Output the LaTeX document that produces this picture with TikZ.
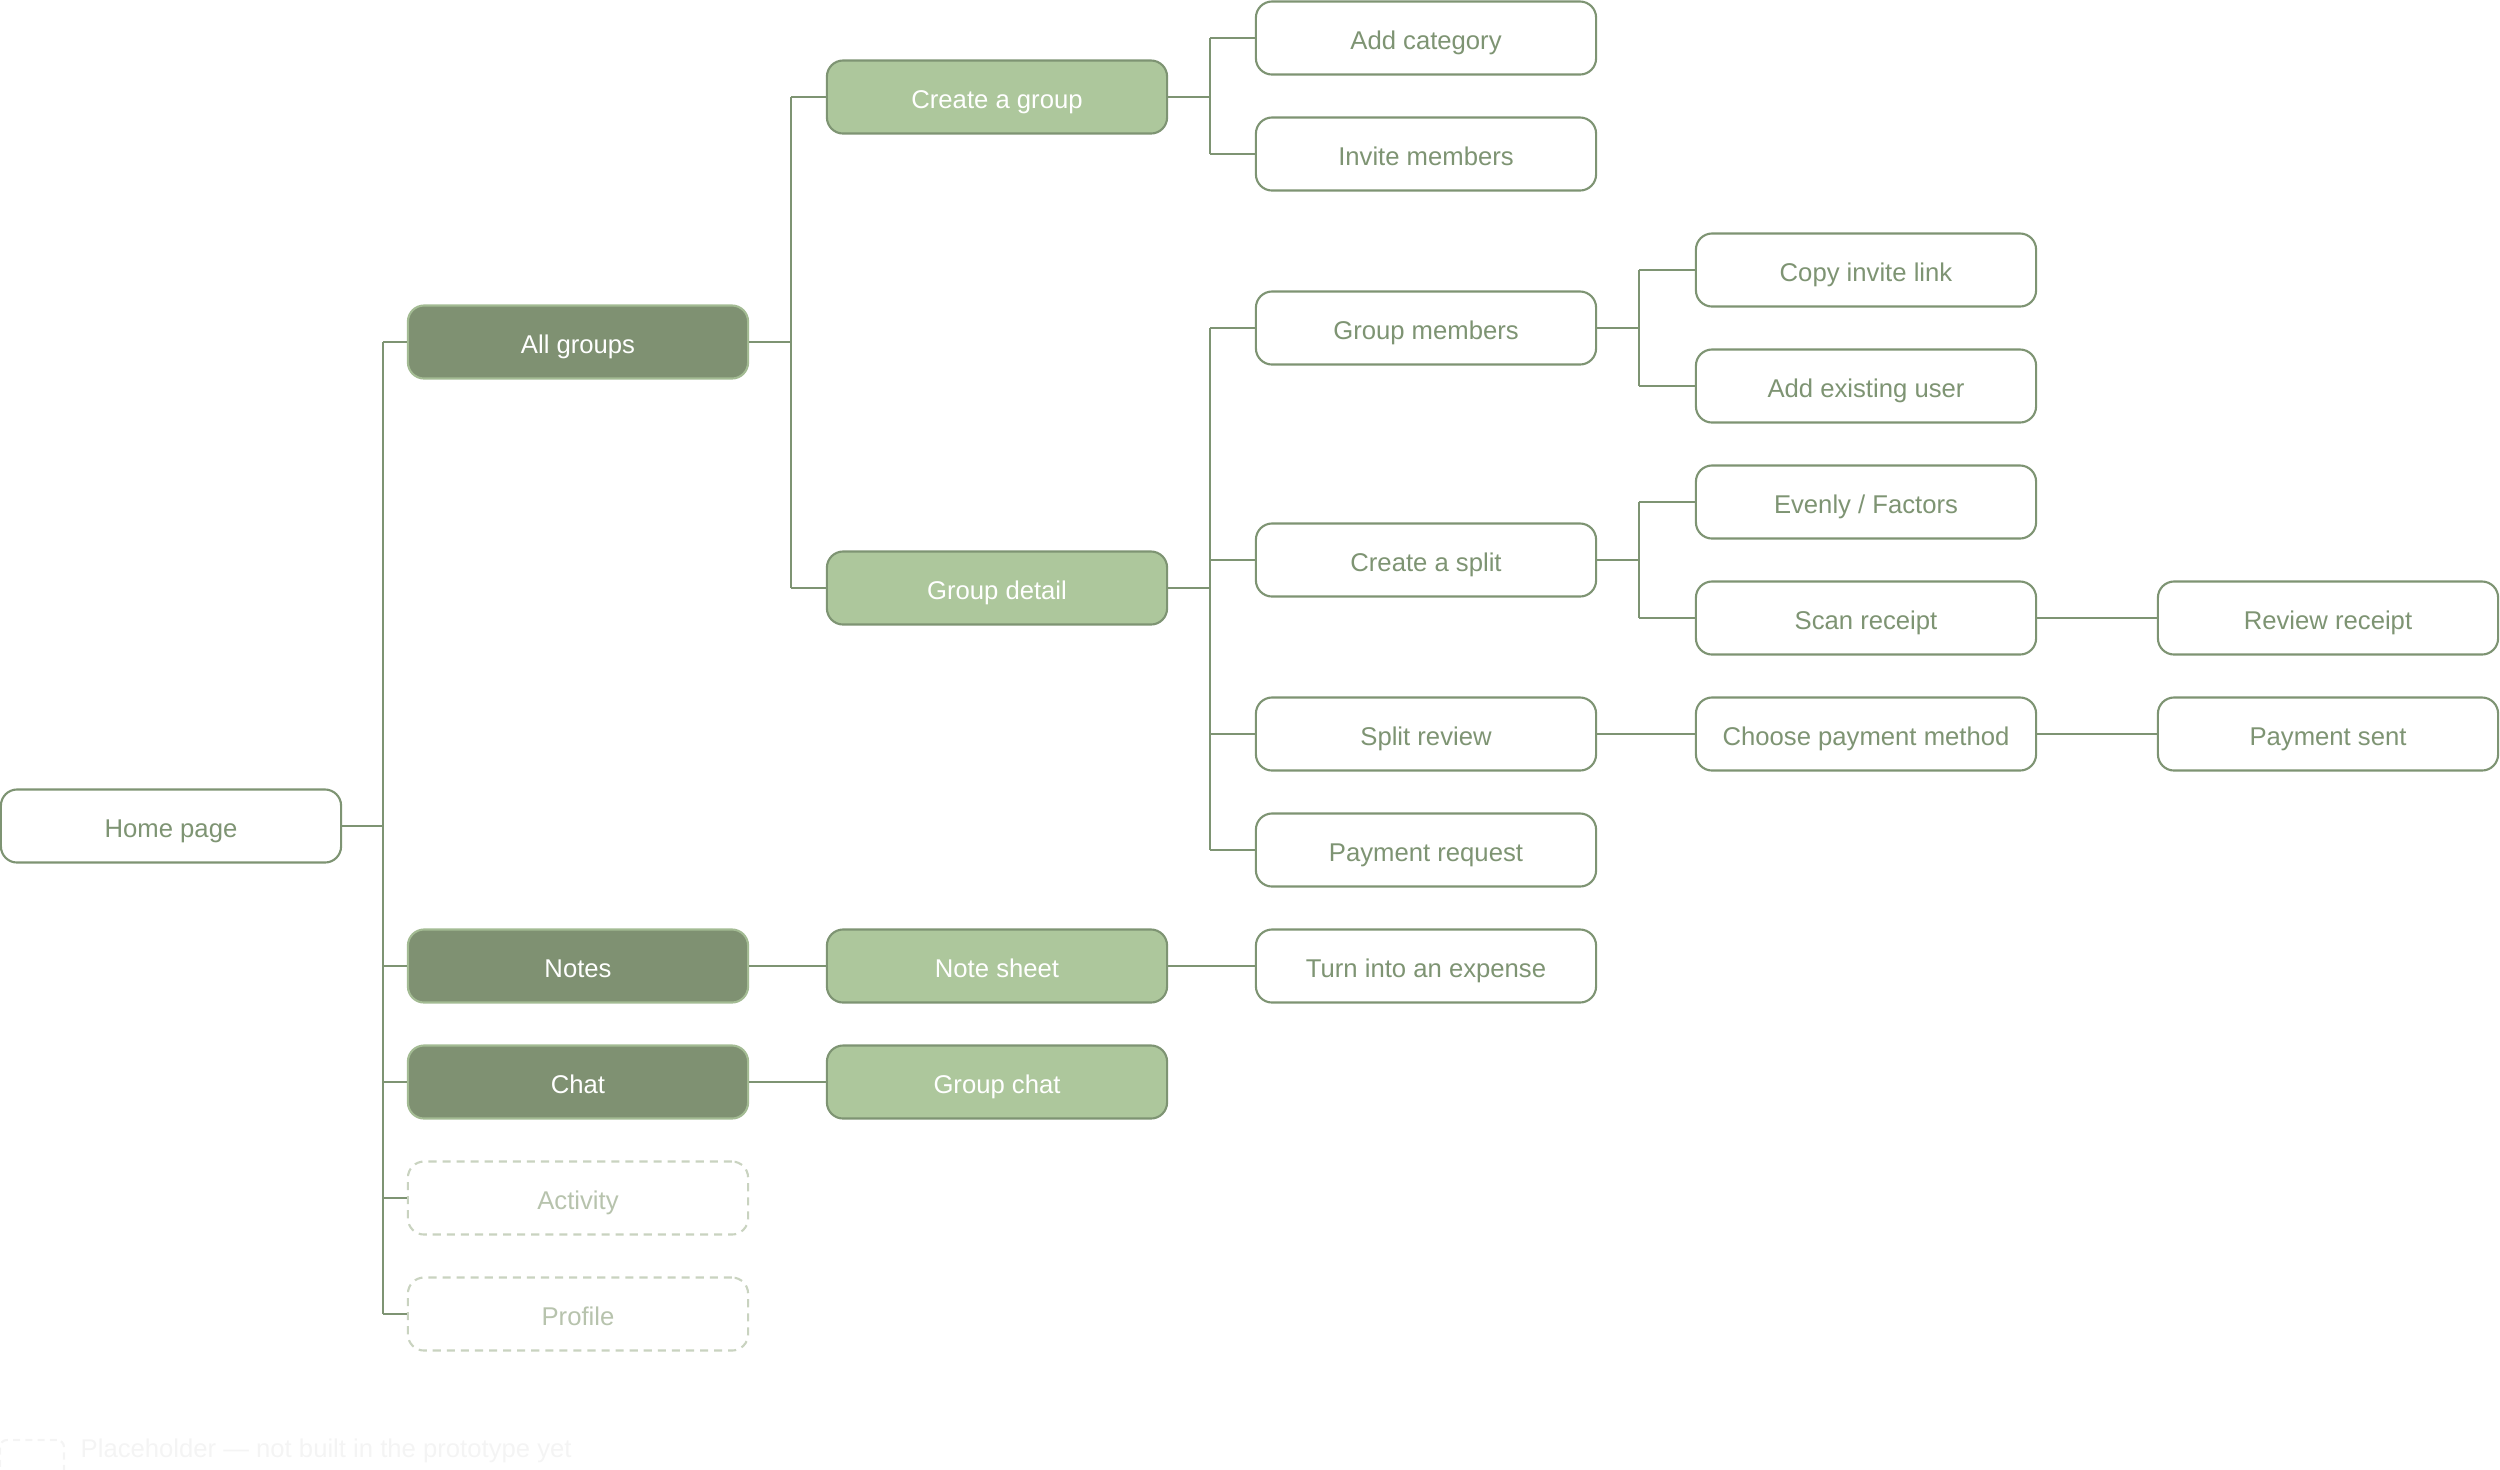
\documentclass[tikz,border=0pt]{standalone}
\usepackage{fontspec}
\setmainfont{Liberation Sans}
\definecolor{lineg}{HTML}{7E9473}
\definecolor{darkg}{HTML}{7F9172}
\definecolor{darkedge}{HTML}{A3BB93}
\definecolor{lightg}{HTML}{ADC79C}
\definecolor{txtg}{HTML}{7E9473}
\definecolor{phedge}{HTML}{C9D3C0}
\definecolor{phtxt}{HTML}{B7C3AD}
\definecolor{legc}{HTML}{F4F4F4}
\begin{document}
\begin{tikzpicture}[x=0.01cm,y=-0.01cm,
 box/.style={draw=lineg, line width=0.6pt, rounded corners=4.6pt, minimum width=3.4cm, minimum height=0.73cm, inner sep=0pt, text height=7.6pt, text depth=1pt, font=\fontsize{7.3}{8}\selectfont, text=txtg, fill=white},
 darkbox/.style={box, fill=darkg, draw=darkedge, text=white},
 lightbox/.style={box, fill=lightg, text=white},
 phbox/.style={box, draw=phedge, dash pattern=on 2.3pt off 1.7pt, text=phtxt},
 conn/.style={draw=lineg, line width=0.6pt}]
\useasboundingbox (0,0) rectangle (2500,1469);
% column 0
\node[box] (home) at (171,826) {Home page};
% column 1
\node[darkbox] (allg) at (578,342) {All groups};
\node[darkbox] (notes) at (578,966) {Notes};
\node[darkbox] (chat) at (578,1082) {Chat};
\node[phbox] (activity) at (578,1198) {Activity};
\node[phbox] (profile) at (578,1314) {Profile};
% column 2
\node[lightbox] (cgroup) at (997,97) {Create a group};
\node[lightbox] (gdetail) at (997,588) {Group detail};
\node[lightbox] (notesheet) at (997,966) {Note sheet};
\node[lightbox] (gchat) at (997,1082) {Group chat};
% column 3
\node[box] (addcat) at (1426,38) {Add category};
\node[box] (invite) at (1426,154) {Invite members};
\node[box] (gmembers) at (1426,328) {Group members};
\node[box] (csplit) at (1426,560) {Create a split};
\node[box] (sreview) at (1426,734) {Split review};
\node[box] (preq) at (1426,850) {Payment request};
\node[box] (turn) at (1426,966) {Turn into an expense};
% column 4
\node[box] (copy) at (1866,270) {Copy invite link};
\node[box] (addex) at (1866,386) {Add existing user};
\node[box] (evenly) at (1866,502) {Evenly / Factors};
\node[box] (scan) at (1866,618) {Scan receipt};
\node[box] (choose) at (1866,734) {Choose payment method};
% column 5
\node[box] (review) at (2328,618) {Review receipt};
\node[box] (psent) at (2328,734) {Payment sent};
% buses
\coordinate (b0) at (383,826);
\draw[conn] (home.east) -- (b0);
\draw[conn] (b0 |- allg.west) -- (b0 |- profile.west);
\foreach \n in {allg,notes,chat,activity,profile} \draw[conn] (b0 |- \n.west) -- (\n.west);
\coordinate (b1) at (791,342);
\draw[conn] (allg.east) -- (b1);
\draw[conn] (b1 |- cgroup.west) -- (b1 |- gdetail.west);
\foreach \n in {cgroup,gdetail} \draw[conn] (b1 |- \n.west) -- (\n.west);
\coordinate (b2) at (1210,97);
\draw[conn] (cgroup.east) -- (b2);
\draw[conn] (b2 |- addcat.west) -- (b2 |- invite.west);
\foreach \n in {addcat,invite} \draw[conn] (b2 |- \n.west) -- (\n.west);
\coordinate (b3) at (1210,588);
\draw[conn] (gdetail.east) -- (b3);
\draw[conn] (b3 |- gmembers.west) -- (b3 |- preq.west);
\foreach \n in {gmembers,csplit,sreview,preq} \draw[conn] (b3 |- \n.west) -- (\n.west);
\coordinate (b4) at (1639,328);
\draw[conn] (gmembers.east) -- (b4);
\draw[conn] (b4 |- copy.west) -- (b4 |- addex.west);
\foreach \n in {copy,addex} \draw[conn] (b4 |- \n.west) -- (\n.west);
\coordinate (b5) at (1639,560);
\draw[conn] (csplit.east) -- (b5);
\draw[conn] (b5 |- evenly.west) -- (b5 |- scan.west);
\foreach \n in {evenly,scan} \draw[conn] (b5 |- \n.west) -- (\n.west);
% direct links
\draw[conn] (scan.east) -- (review.west);
\draw[conn] (sreview.east) -- (choose.west);
\draw[conn] (choose.east) -- (psent.west);
\draw[conn] (notes.east) -- (notesheet.west);
\draw[conn] (notesheet.east) -- (turn.west);
\draw[conn] (chat.east) -- (gchat.west);
% legend (nearly invisible)
\node[draw=legc, line width=0.6pt, dash pattern=on 2pt off 1.5pt, rounded corners=2pt, minimum width=0.64cm, minimum height=0.4cm, inner sep=0pt] (legbox) at (32,1460) {};
\node[anchor=west, inner sep=0pt, text=legc, font=\fontsize{7.3}{8}\selectfont] (legtxt) at (80,1451) {Placeholder — not built in the prototype yet};
\end{tikzpicture}
\end{document}
